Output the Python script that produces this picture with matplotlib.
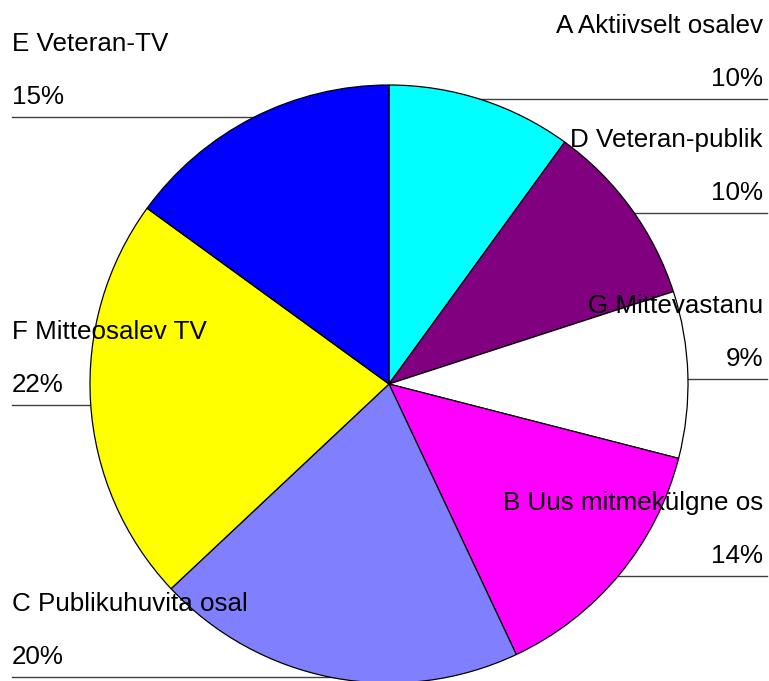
import matplotlib.pyplot as plt

# slice data, clockwise from 12 o'clock
labels = ["A Aktiivselt osalev", "D Veteran-publik", "G Mittevastanu",
          "B Uus mitmekülgne os", "C Publikuhuvita osal", "F Mitteosalev TV",
          "E Veteran-TV"]
percents = [10, 10, 9, 14, 20, 22, 15]
colors = ["#00FFFF", "#800080", "#FFFFFF", "#FF00FF", "#8080FF", "#FFFF00", "#0000FF"]

# label layout (pixel rows of the underline) and side
line_y = [99, 213, 379, 576, 677, 405, 117]
sides = ["r", "r", "r", "r", "l", "l", "l"]

W, H = 769, 681
cx, cy, R = 389, 384, 299

plt.rcParams['font.family'] = ['Liberation Sans', 'DejaVu Sans']
fig = plt.figure(figsize=(W / 100, H / 100), dpi=100)
ax = fig.add_axes([0, 0, 1, 1])
ax.set_xlim(0, W)
ax.set_ylim(0, H)
ax.set_aspect('equal')
ax.axis('off')

wedges, _ = ax.pie(percents, colors=colors, startangle=90, counterclock=False,
                   center=(cx, H - cy), radius=R,
                   wedgeprops=dict(edgecolor='black', linewidth=0.9))
for w in wedges:
    w.set_zorder(2)
ax.set_xlim(0, W)
ax.set_ylim(0, H)

for lab, p, ly, s in zip(labels, percents, line_y, sides):
    yy = H - ly
    if s == "r":
        ax.plot([cx, 767], [yy, yy], color='#404040', lw=1, zorder=1)
        ax.text(763, yy + 73, lab, ha='right', va='center', fontsize=18.7, zorder=3)
        ax.text(763, yy + 20, str(p) + "%", ha='right', va='center', fontsize=18.7, zorder=3)
    else:
        ax.plot([12, cx], [yy, yy], color='#404040', lw=1, zorder=1)
        ax.text(12, yy + 73, lab, ha='left', va='center', fontsize=18.7, zorder=3)
        ax.text(12, yy + 20, str(p) + "%", ha='left', va='center', fontsize=18.7, zorder=3)

plt.savefig("out.png", dpi=100)
